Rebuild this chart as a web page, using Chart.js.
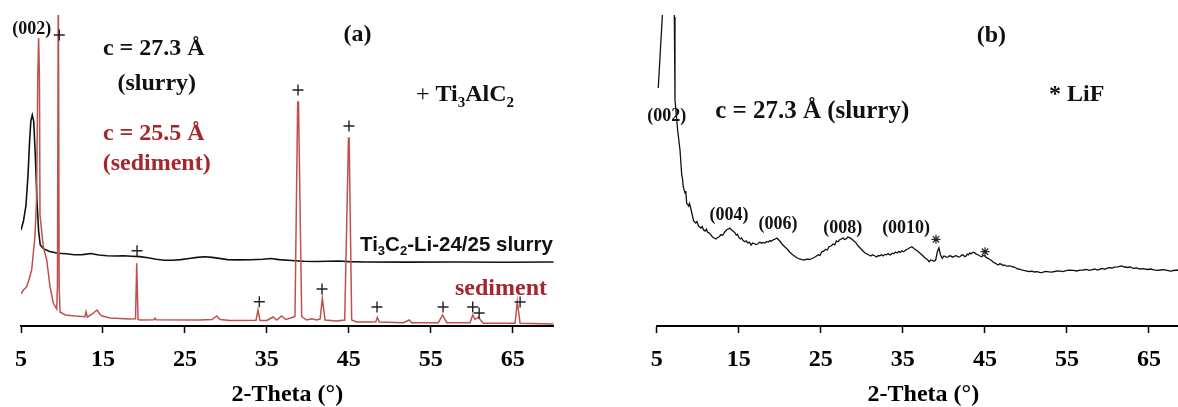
<!DOCTYPE html>
<html>
<head>
<meta charset="utf-8">
<script src="https://cdn.jsdelivr.net/npm/chart.js@4"></script>
<style>
  html, body { margin: 0; padding: 0; background: #fff; overflow: hidden; width: 1178px; height: 407px; }
  .panel { position: absolute; top: 0; }
</style>
</head>
<body>
<div class="panel" style="left:0"><canvas id="chartA" width="600" height="407"></canvas></div>
<div class="panel" style="left:630px"><canvas id="chartB" width="580" height="407"></canvas></div>
<script>
// x axis (2-Theta, degrees) - same for both panels
const tickLabels = [5, 15, 25, 35, 45, 55, 65];
const thetaMin = 5, thetaMax = 70;
const intensityMax = 3110; // a.u., top of the plot

// (a) slurry pattern  [2θ, intensity a.u.]
const slurryA = [
    [5.0, 960], [5.3, 1050], [5.6, 1200], [5.85, 1500], [6.05, 1850], [6.2, 2050], [6.38, 2110],
    [6.55, 2050], [6.75, 1700], [6.95, 1250], [7.15, 950], [7.35, 810], [7.8, 770], [8.5, 745],
    [9.5, 727], [10.5, 722], [11.5, 712], [12.5, 714], [13.5, 725], [14.5, 710], [15.5, 703],
    [16.5, 700], [17.5, 703], [18.5, 698], [19.5, 694], [20.5, 682], [21.5, 668], [22.5, 658],
    [23.5, 657], [24.5, 664], [25.5, 675], [26.5, 686], [27.4, 692], [28.3, 686], [29.2, 676],
    [30.2, 664], [31.5, 661], [33.0, 662], [34.5, 668], [35.5, 675], [36.5, 664], [38.0, 655],
    [39.5, 648], [41.0, 645], [42.5, 647], [43.8, 650], [45.0, 644], [47.0, 640], [52.0, 639],
    [58.0, 640], [64.0, 638], [70.0, 640]
];

// (a) sediment pattern
const sedimentA = [
    [5.0, 320], [5.3, 360], [5.7, 393], [6.0, 470], [6.3, 560], [6.5, 727], [6.7, 893], [6.9, 1260],
    [7.05, 2500], [7.15, 2880], [7.25, 2500], [7.32, 1110], [7.72, 793], [8.14, 660], [8.54, 393],
    [8.94, 230], [9.36, 170], [9.45, 400], [9.55, 3600], [9.66, 400], [9.76, 140], [10.4, 110],
    [11.6, 100], [12.8, 93], [12.93, 143], [13.1, 90], [13.7, 120], [14.27, 160], [14.6, 120],
    [14.9, 100], [15.9, 80], [18.3, 70], [18.97, 72], [19.12, 627], [19.28, 68], [19.5, 60],
    [21.2, 62], [21.35, 80], [21.5, 62], [26.8, 60], [28.3, 65], [28.88, 100], [29.3, 65],
    [30.5, 55], [33.68, 58], [33.92, 160], [34.16, 55], [35.0, 55], [35.75, 90], [36.2, 60],
    [36.8, 100], [37.3, 65], [37.9, 80], [38.43, 95], [38.76, 2240], [38.86, 2240], [39.25, 95],
    [39.86, 60], [40.47, 73], [41.08, 60], [41.5, 70], [41.77, 277], [42.1, 60], [43.5, 50],
    [44.5, 60], [44.96, 1880], [45.04, 1880], [45.35, 60], [45.96, 40], [47.6, 40], [48.3, 43],
    [48.48, 87], [48.72, 40], [51.65, 33], [52.38, 60], [52.67, 33], [55.92, 33], [56.45, 110],
    [56.94, 33], [59.8, 33], [60.12, 110], [60.4, 67], [60.8, 87], [61.4, 27], [65.28, 27],
    [65.56, 243], [65.9, 27], [70.0, 20]
];

// (a) Ti3AlC2 reflections, "+" marks
const ti3alc2Marks = [
    [9.67, 2910], [19.16, 753], [34.08, 243], [38.8, 2360], [41.73, 370], [45.02, 2000],
    [48.44, 190], [56.5, 190], [60.12, 190], [60.9, 130], [65.9, 240]
];

// (b) slurry pattern
const slurryB = [
    [5.19, 2380], [5.68, 3090], [5.9, 3600], [6.9, 3600], [7.15, 3090], [7.23, 2260], [7.55, 1960],
    [7.84, 1760], [8.05, 1510], [8.15, 1470], [8.24, 1390], [8.45, 1330], [8.55, 1350], [8.65, 1230],
    [8.9, 1200], [9.0, 1225], [9.2, 1160], [9.5, 1050], [9.76, 1030], [9.9, 1045], [10.1, 1000],
    [10.4, 980], [10.55, 995], [10.7, 962], [10.9, 950], [11.05, 968], [11.2, 938], [11.4, 930],
    [11.6, 912], [11.8, 890], [12.0, 880], [12.2, 870], [12.4, 885], [12.6, 890], [12.8, 912],
    [13.06, 910], [13.3, 940], [13.5, 960], [13.7, 968], [13.9, 980], [14.1, 962], [14.3, 950],
    [14.5, 936], [14.7, 910], [14.85, 918], [15.0, 885], [15.2, 870], [15.35, 880], [15.5, 858],
    [15.7, 843], [15.9, 852], [16.1, 830], [16.3, 838], [16.5, 810], [16.7, 830], [16.9, 825],
    [17.1, 815], [17.3, 820], [17.55, 838], [17.8, 828], [18.0, 836], [18.2, 830], [18.4, 845],
    [18.6, 840], [18.8, 852], [19.0, 850], [19.2, 862], [19.4, 868], [19.65, 880], [19.85, 862],
    [20.1, 840], [20.35, 812], [20.6, 793], [20.9, 770], [21.2, 740], [21.5, 718], [21.9, 693],
    [22.15, 680], [22.4, 670], [22.7, 664], [22.95, 660], [23.3, 668], [23.6, 665], [23.95, 675],
    [24.3, 690], [24.7, 712], [24.9, 705], [25.1, 740], [25.35, 748], [25.6, 768], [25.8, 760],
    [26.0, 793], [26.25, 800], [26.5, 820], [26.7, 812], [26.9, 850], [27.1, 842], [27.3, 862],
    [27.5, 870], [27.7, 880], [27.9, 866], [28.1, 872], [28.3, 890], [28.5, 883], [28.7, 874],
    [28.9, 860], [29.1, 846], [29.3, 830], [29.55, 800], [29.8, 780], [30.1, 752], [30.4, 730],
    [30.6, 722], [30.8, 712], [31.1, 700], [31.3, 712], [31.5, 705], [31.8, 690], [32.0, 705],
    [32.2, 702], [32.4, 712], [32.6, 700], [32.8, 716], [33.0, 712], [33.2, 724], [33.45, 710],
    [33.7, 728], [33.9, 722], [34.1, 740], [34.3, 730], [34.5, 744], [34.7, 738], [34.9, 752],
    [35.1, 743], [35.4, 762], [35.6, 770], [35.85, 782], [36.1, 793], [36.35, 774], [36.6, 760],
    [36.9, 742], [37.2, 720], [37.45, 702], [37.7, 680], [37.95, 668], [38.2, 643], [38.4, 660],
    [38.6, 655], [38.8, 648], [39.0, 660], [39.2, 740], [39.4, 780], [39.6, 710], [39.8, 677],
    [40.0, 700], [40.2, 695], [40.35, 686], [40.5, 690], [40.7, 702], [40.9, 698], [41.05, 688],
    [41.2, 693], [41.4, 704], [41.6, 700], [41.8, 690], [42.0, 695], [42.2, 712], [42.4, 706],
    [42.55, 694], [42.7, 700], [42.85, 718], [43.0, 712], [43.15, 730], [43.3, 720], [43.5, 736],
    [43.75, 733], [43.95, 718], [44.2, 710], [44.4, 700], [44.6, 693], [44.8, 706], [45.0, 700],
    [45.2, 684], [45.4, 677], [45.55, 668], [45.7, 660], [45.85, 652], [46.0, 640], [46.15, 632],
    [46.3, 628], [46.45, 618], [46.6, 610], [46.8, 622], [47.0, 618], [47.2, 604], [47.4, 610],
    [47.65, 598], [47.9, 600], [48.1, 602], [48.3, 593], [48.5, 590], [48.7, 585], [48.9, 574],
    [49.1, 570], [49.3, 566], [49.5, 560], [49.7, 556], [49.9, 553], [50.2, 546], [50.5, 545],
    [50.75, 548], [51.0, 540], [51.25, 544], [51.5, 542], [51.75, 534], [52.0, 537], [52.4, 546],
    [52.8, 542], [53.1, 538], [53.5, 545], [53.85, 552], [54.2, 548], [54.5, 544], [54.9, 553],
    [55.3, 558], [55.8, 556], [56.2, 550], [56.6, 558], [57.0, 560], [57.4, 566], [57.7, 556],
    [58.0, 562], [58.4, 570], [58.7, 560], [58.95, 567], [59.3, 575], [59.6, 566], [59.8, 574],
    [60.1, 584], [60.5, 580], [60.8, 588], [61.2, 592], [61.45, 596], [61.7, 600], [61.9, 592],
    [62.1, 590], [62.4, 585], [62.7, 590], [63.1, 577], [63.5, 580], [63.9, 570], [64.3, 574],
    [64.8, 565], [65.2, 570], [65.6, 562], [66.0, 556], [66.4, 560], [66.8, 564], [67.2, 556],
    [67.6, 548], [68.0, 555], [68.4, 560], [68.8, 552], [69.3, 553], [69.7, 558], [70.0, 550]
];

// (b) LiF reflections, "*" marks
const lifMarks = [[39.04, 867], [45.02, 743]];

const BLACK = '#111111';
const RED_LINE = '#c0504d';
const RED_TEXT = '#a5262b';
const SERIF = 'Liberation Serif';

const notesA = [
    { text: '(002)', at: [6.3, 2977], size: 18, color: BLACK },
    { text: 'c = 27.3 Å', at: [21.2, 2793], size: 24, color: BLACK },
    { text: '(slurry)', at: [21.56, 2443], size: 24, color: BLACK },
    { text: 'c = 25.5 Å', at: [21.2, 1943], size: 24, color: RED_TEXT },
    { text: '(sediment)', at: [21.56, 1643], size: 24, color: RED_TEXT },
    { text: '(a)', at: [46.06, 2927], size: 24, color: BLACK },
    { pre: '+ ', text: 'Ti_3AlC_2', at: [59.18, 2327], size: 24, color: BLACK },
    { text: 'Ti_3C_2-Li-24/25 slurry', at: [58.14, 820], size: 20.5, color: BLACK, family: 'Liberation Sans' },
    { text: 'sediment', at: [63.57, 390], size: 24, color: RED_TEXT }
];

const notesB = [
    { text: '(002)', at: [6.22, 2110], size: 18, color: BLACK },
    { text: 'c = 27.3 Å (slurry)', at: [23.95, 2170], size: 25, color: BLACK },
    { text: '(b)', at: [45.8, 2920], size: 24, color: BLACK },
    { text: '* LiF', at: [56.2, 2330], size: 24, color: BLACK },
    { text: '(004)', at: [13.8, 1120], size: 18, color: BLACK },
    { text: '(006)', at: [19.78, 1033], size: 18, color: BLACK },
    { text: '(008)', at: [27.67, 987], size: 18, color: BLACK },
    { text: '(0010)', at: [35.4, 987], size: 18, color: BLACK }
];

// text with "_x" subscripts, centred on (cx, cy)
function drawRich(ctx, cx, cy, n) {
    const fam = n.family || SERIF;
    const segs = [];
    if (n.pre) segs.push({ t: n.pre, f: `normal ${n.size}px "${fam}"`, dy: 0 });
    const re = /_(.)|([^_]+)/g;
    let m;
    while ((m = re.exec(n.text))) {
        if (m[1]) segs.push({ t: m[1], f: `bold ${Math.round(n.size * 0.62)}px "${fam}"`, dy: n.size * 0.22 });
        else segs.push({ t: m[2], f: `bold ${n.size}px "${fam}"`, dy: 0 });
    }
    ctx.save();
    let w = 0;
    segs.forEach(s => { ctx.font = s.f; s.w = ctx.measureText(s.t).width; w += s.w; });
    let x = cx - w / 2;
    const base = cy + n.size * 0.34;
    ctx.fillStyle = n.color;
    ctx.textAlign = 'left';
    ctx.textBaseline = 'alphabetic';
    segs.forEach(s => { ctx.font = s.f; ctx.fillText(s.t, x, base + s.dy); x += s.w; });
    ctx.restore();
}

function notesPlugin(items) {
    return {
        id: 'notes',
        afterDatasetsDraw(chart) {
            const { ctx, scales } = chart;
            items.forEach(n => drawRich(ctx, scales.x.getPixelForValue(n.at[0]), scales.y.getPixelForValue(n.at[1]), n));
        }
    };
}

const toXY = arr => arr.map(p => ({ x: p[0], y: p[1] }));
const axisFont = { family: SERIF, size: 24, weight: 'bold', lineHeight: 1 };

function lineSet(data, color, width, order) {
    return { type: 'line', data: toXY(data), borderColor: color, borderWidth: width,
             pointRadius: 0, tension: 0, fill: false, order: order };
}

function markSet(data, style, radius, width, order) {
    return { type: 'scatter', data: toXY(data), pointStyle: style, pointRadius: radius,
             borderColor: '#222', borderWidth: width, backgroundColor: '#222', showLine: false, order: order };
}

function drawChart(id, datasets, notes, padLeft, padRight) {
    const ctx = document.getElementById(id).getContext('2d');
    return new Chart(ctx, {
        type: 'line',
        data: { datasets: datasets },
        options: {
            responsive: false,
            animation: false,
            layout: { padding: { left: padLeft, right: padRight, top: 15, bottom: 0 } },
            plugins: { legend: { display: false }, tooltip: { enabled: false } },
            scales: {
                x: {
                    type: 'linear', min: thetaMin, max: thetaMax,
                    afterBuildTicks: s => { s.ticks = tickLabels.map(v => ({ value: v })); },
                    afterFit: s => { s.height = 81; },
                    border: { display: true, color: '#000', width: 2 },
                    grid: { display: true, drawOnChartArea: false, drawTicks: true, tickLength: 7, tickWidth: 1.5, tickColor: '#000' },
                    ticks: { color: '#000', padding: 15, maxRotation: 0, autoSkip: false, font: axisFont },
                    title: { display: true, text: '2-Theta (°)', color: '#000', padding: { top: 0, bottom: 0 }, font: axisFont }
                },
                y: { display: false, min: 0, max: intensityMax }
            }
        },
        plugins: [notesPlugin(notes)]
    });
}

drawChart('chartA', [
    markSet(ti3alc2Marks, 'cross', 5.5, 1.4, 0),
    lineSet(sedimentA, RED_LINE, 1.5, 1),
    lineSet(slurryA, BLACK, 1.6, 2)
], notesA, 21, 46.3);

drawChart('chartB', [
    markSet(lifMarks, 'star', 4.5, 1.2, 0),
    lineSet(slurryB, BLACK, 1.3, 1)
], notesB, 26.7, 20);
</script>
</body>
</html>
